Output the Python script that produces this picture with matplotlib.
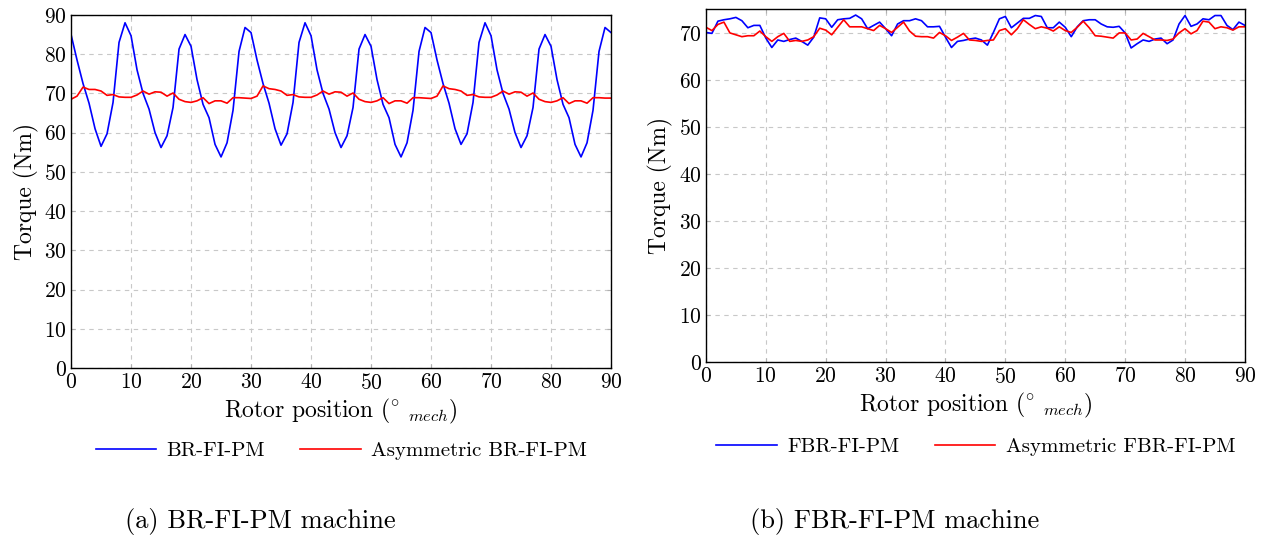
import matplotlib
matplotlib.use("Agg")
import matplotlib.pyplot as plt
import numpy as np

# Rotor position (deg mech)
position = list(range(0, 91))

# (a) BR-FI-PM machine torque (Nm)
br_fi_pm = [85, 78.5, 72.5, 67.5, 61, 56.5, 59.7, 67.7, 83, 88,
            84.7, 76, 70, 66, 60, 56.2, 59.2, 66.4, 81.3, 85,
            82, 73.5, 67.2, 63.8, 57, 53.8, 57.4, 65.7, 80.7, 86.8,
            85.5, 78.5, 72.5, 67.5, 61, 56.8, 59.7, 67.7, 83, 88,
            84.7, 76, 70, 66, 60, 56.2, 59.2, 66.4, 81.3, 85,
            82, 73.5, 67.2, 63.8, 57, 53.8, 57.4, 65.7, 80.7, 86.8,
            85.5, 78.5, 72.5, 67.5, 61, 57, 59.7, 67.7, 83, 88,
            84.7, 76, 70, 66, 60, 56.2, 59.2, 66.4, 81.3, 85,
            82, 73.5, 67.2, 63.8, 57, 53.8, 57.4, 65.7, 80.7, 86.8,
            85.5]
asym_br_fi_pm = [68.5, 69.3, 71.6, 71, 71, 70.6, 69.5, 69.7, 69.1, 69,
                 69, 69.6, 70.6, 69.8, 70.4, 70.3, 69.3, 70.1, 68.5, 67.9,
                 67.7, 68.1, 68.9, 67.4, 68.1, 68.1, 67.5, 68.9, 68.9, 68.8,
                 68.7, 69.3, 71.9, 71.2, 71, 70.6, 69.5, 69.7, 69.1, 69,
                 69, 69.6, 70.6, 69.8, 70.4, 70.3, 69.3, 70.1, 68.5, 67.9,
                 67.7, 68.1, 68.9, 67.4, 68.1, 68.1, 67.5, 68.9, 68.9, 68.8,
                 68.7, 69.3, 71.9, 71.2, 71, 70.6, 69.5, 69.7, 69.1, 69,
                 69, 69.6, 70.6, 69.8, 70.4, 70.3, 69.3, 70.1, 68.5, 67.9,
                 67.7, 68.1, 68.9, 67.4, 68.1, 68.1, 67.5, 68.9, 68.9, 68.8,
                 68.8]

# (b) FBR-FI-PM machine torque (Nm)
fbr_fi_pm = [70.1, 69.9, 72.5, 72.8, 73, 73.3, 72.6, 71.1, 71.6, 71.6,
             68.9, 66.9, 68.5, 68.2, 68.6, 68.9, 68.2, 67.4, 69.1, 73.2,
             73, 71.2, 72.8, 73, 73.1, 73.8, 73, 70.9, 71.6, 72.3,
             70.9, 69.4, 71.9, 72.6, 72.6, 73, 72.6, 71.3, 71.3, 71.4,
             69.1, 66.9, 68.2, 68.4, 68.7, 68.9, 68.5, 67.4, 70.1, 73,
             73.5, 71.1, 72.1, 73.1, 73.1, 73.7, 73.5, 71.1, 71.1, 72.3,
             71.2, 69.2, 71.3, 72.6, 72.8, 72.8, 71.9, 71.3, 71.2, 71.4,
             70, 66.8, 67.7, 68.5, 68.2, 68.7, 68.9, 67.7, 68.5, 71.9,
             73.7, 71.4, 71.9, 73, 72.8, 73.7, 73.7, 71.6, 70.7, 72.3,
             71.6]
asym_fbr_fi_pm = [71.2, 70.5, 71.8, 72.3, 70, 69.6, 69.2, 69.4, 69.4, 70.4,
                  69.2, 68.2, 69.2, 69.9, 68.2, 68.4, 68.2, 68.5, 69.2, 71,
                  70.6, 69.6, 71.2, 72.8, 71.3, 71.3, 71.3, 70.9, 70.5, 71.6,
                  70.9, 70.1, 71.2, 72.3, 70.4, 69.3, 69.2, 69.2, 68.9, 70.1,
                  69.4, 68.4, 69.1, 69.9, 68.5, 68.4, 68.2, 68.4, 68.5, 70.5,
                  70.9, 69.6, 70.9, 72.8, 71.8, 70.9, 71.3, 71, 70.4, 71.3,
                  70.5, 70.1, 71.2, 72.5, 71.1, 69.4, 69.3, 69.1, 68.9, 70,
                  70, 68.5, 68.7, 69.9, 69.2, 68.5, 68.5, 68.4, 68.7, 70,
                  70.9, 69.8, 70.5, 72.5, 72.3, 70.9, 71.3, 71.1, 70.6, 71.3,
                  71.3]

plt.rcParams['font.family'] = 'serif'
plt.rcParams['font.serif'] = ['cmr10', 'DejaVu Serif']
plt.rcParams['mathtext.fontset'] = 'cm'
plt.rcParams['axes.formatter.use_mathtext'] = True

fig = plt.figure(figsize=(12.64, 5.39), dpi=100)
ax1 = fig.add_axes([0.0562, 0.3173, 0.4272, 0.655])
ax2 = fig.add_axes([0.5585, 0.3284, 0.4264, 0.655])

panels = [
    (ax1, br_fi_pm, asym_br_fi_pm, 'BR-FI-PM', 'Asymmetric BR-FI-PM', 90, 0.270, 0.163),
    (ax2, fbr_fi_pm, asym_fbr_fi_pm, 'FBR-FI-PM', 'Asymmetric FBR-FI-PM', 75.1, 0.772, 0.171),
]

for ax, blue, red, lab1, lab2, ytop, leg_x, leg_y in panels:
    ax.plot(position, blue, color='#0000ff', lw=1.2, label=lab1)
    ax.plot(position, red, color='#ff0000', lw=1.2, label=lab2)
    ax.set_xlim(0, 90)
    ax.set_ylim(0, ytop)
    ax.set_xticks(np.arange(0, 91, 10))
    ax.set_yticks(np.arange(0, 91 if ytop > 80 else 71, 10))
    ax.grid(True, linestyle=(0, (4, 4)), color='#c8c8c8', lw=0.8)
    ax.tick_params(direction='in', top=True, right=True, length=3,
                   color='#b0b0b0', labelsize=15.5)
    ax.tick_params(axis='x', pad=3.5)
    ax.tick_params(axis='y', pad=3)
    for s in ax.spines.values():
        s.set_linewidth(1.0)
    ax.set_xlabel(r'Rotor position ($^{\circ}\ _{mech}$)', fontsize=17, labelpad=3)
    ax.set_ylabel('Torque (Nm)', fontsize=17, labelpad=4)
    ax.legend(loc='center', bbox_to_anchor=(leg_x, leg_y), bbox_transform=fig.transFigure,
              ncol=2, frameon=False, handlelength=2.9, handletextpad=0.5,
              columnspacing=1.7, fontsize=15)

fig.text(0.206, 0.032, '(a) BR-FI-PM machine', ha='center', va='center', fontsize=19)
fig.text(0.708, 0.032, '(b) FBR-FI-PM machine', ha='center', va='center', fontsize=19)

fig.savefig('out.png', dpi=100)
